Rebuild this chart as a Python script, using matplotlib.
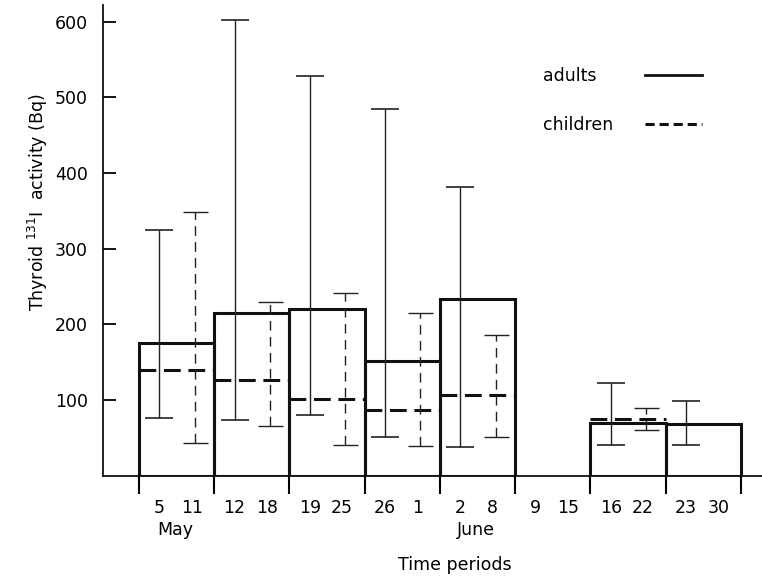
# thyroid 131I activity per time period, adults vs children
import numpy as np
import matplotlib
matplotlib.use("Agg")
import matplotlib.pyplot as plt

plt.rcParams["font.family"] = "DejaVu Sans"
plt.rcParams["font.size"] = 12

# one entry per weekly period (May 5 .. June 30)
day_labels = [("5", "11"), ("12", "18"), ("19", "25"), ("26", "1"),
              ("2", "8"), ("9", "15"), ("16", "22"), ("23", "30")]
month_labels = ["May", "June"]
month_period = [0, 4]

nan = np.nan
adults = [175, 215, 220, 152, 233, nan, 70, 68]
adults_low = [76, 74, 80, 51, 38, nan, 40, 40]
adults_high = [324, 602, 528, 484, 382, nan, 122, 98]

children = [139, 126, 101, 87, 106, nan, 75, nan]
children_low = [43, 66, 40, 39, 51, nan, 60, nan]
children_high = [349, 229, 242, 215, 186, nan, 90, nan]

adults = np.array(adults, dtype=float)
children = np.array(children, dtype=float)
n = len(day_labels)
idx = np.arange(n)

fig = plt.figure(figsize=(7.62, 5.83), dpi=100)
ax = fig.add_axes([0.1352, 0.1842, 0.8648, 0.8072])

# adults: open bars
ok = ~np.isnan(adults)
ax.bar(idx[ok], adults[ok], width=1.0, align="edge", fill=False,
       edgecolor="#111111", linewidth=2.2, zorder=3)

# children: dashed level lines
okc = ~np.isnan(children)
ax.hlines(children[okc], idx[okc], idx[okc] + 1, colors="#111111",
          linestyles=(0, (5.5, 2.5)), linewidth=2.2, zorder=4)

# error bars
a_x = idx[ok] + 0.27
a_lo = adults[ok] - np.array(adults_low)[ok]
a_hi = np.array(adults_high)[ok] - adults[ok]
ax.errorbar(a_x, adults[ok], yerr=[a_lo, a_hi], fmt="none", ecolor="#222222",
            elinewidth=1.0, capsize=10, capthick=1.2, zorder=5)

c_x = idx[okc] + 0.74
c_lo = children[okc] - np.array(children_low)[okc]
c_hi = np.array(children_high)[okc] - children[okc]
eb = ax.errorbar(c_x, children[okc], yerr=[c_lo, c_hi], fmt="none",
                 ecolor="#222222", elinewidth=1.0, capsize=9, capthick=1.0,
                 zorder=5)
for lc in eb[2]:
    lc.set_linestyle((0, (7, 4.5)))

ax.set_xlim(-0.478, 8.28)
ax.set_ylim(0, 622)

# axes styling
ax.spines["top"].set_visible(False)
ax.spines["right"].set_visible(False)
for s in ["left", "bottom"]:
    ax.spines[s].set_linewidth(1.3)
    ax.spines[s].set_color("#111111")

ax.set_yticks([100, 200, 300, 400, 500, 600])
ax.tick_params(axis="y", direction="in", length=9, width=1.3, pad=11,
               labelsize=12.5)

ax.set_xticks(np.arange(n + 1))
ax.set_xticklabels([])
ax.tick_params(axis="x", which="major", direction="out", length=13,
               width=1.5)
minor_pos = []
minor_lab = []
for i, (d1, d2) in enumerate(day_labels):
    minor_pos += [i + 0.27, i + 0.7]
    minor_lab += [d1, d2]
ax.set_xticks(minor_pos, minor=True)
ax.set_xticklabels(minor_lab, minor=True)
ax.tick_params(axis="x", which="minor", length=0, pad=17, labelsize=12.5)

for m, p in zip(month_labels, month_period):
    ax.text(p + 0.48, -0.115, m, transform=ax.get_xaxis_transform(),
            ha="center", va="center", fontsize=12.5)

ax.text(0.534, -0.19, "Time periods", transform=ax.transAxes,
        ha="center", va="center", fontsize=12.5)
fig.text(0.05, 0.653, "Thyroid $^{131}$I  activity (Bq)", rotation=90,
         ha="center", va="center", fontsize=12.5)

# legend drawn by hand in axes fraction
ax.text(0.667, 0.85, "adults", transform=ax.transAxes, ha="left",
        va="center", fontsize=12.5)
ax.text(0.667, 0.745, "children", transform=ax.transAxes, ha="left",
        va="center", fontsize=12.5)
ax.plot([0.822, 0.909], [0.852, 0.852], transform=ax.transAxes,
        color="#111111", linewidth=2.0)
ax.plot([0.822, 0.909], [0.747, 0.747], transform=ax.transAxes,
        color="#111111", linewidth=2.2, linestyle=(0, (3, 1.6)))

fig.savefig("out.png", dpi=100)
